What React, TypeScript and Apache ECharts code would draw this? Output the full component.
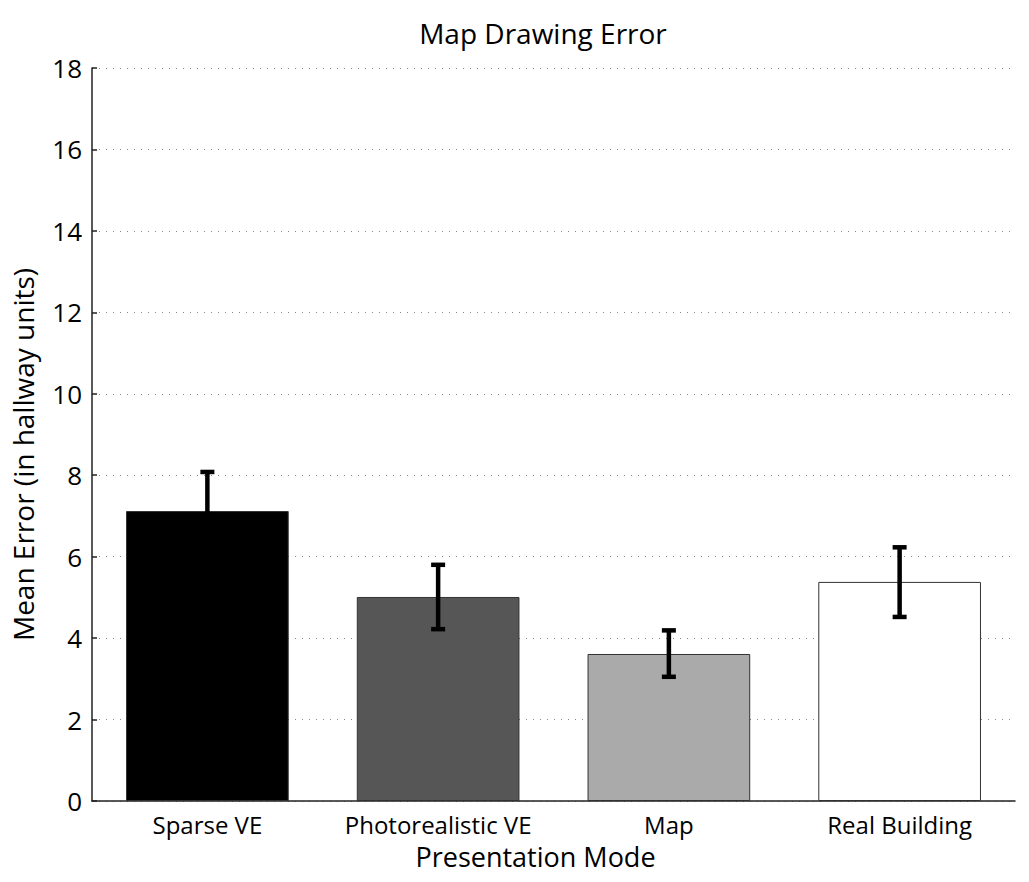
import React, { useEffect, useRef } from "react";
import * as echarts from "echarts";

const categories = ["Sparse VE", "Photorealistic VE", "Map", "Real Building"];
const meanError = [7.12, 5.01, 3.61, 5.38];
const errLow = [6.16, 4.22, 3.05, 4.52];
const errHigh = [8.08, 5.8, 4.19, 6.23];
const barColors = ["#000000", "#565656", "#aaaaaa", "#ffffff"];
const yTicks = [0, 2, 4, 6, 8, 10, 12, 14, 16, 18];

const FONT = "'Open Sans', 'Noto Sans', sans-serif";

export default function App() {
  const ref = useRef<HTMLDivElement>(null);
  useEffect(() => {
    if (!ref.current) return;
    const chart = echarts.init(ref.current, undefined, { renderer: "svg" });
    const errData = categories.map((c, i) => [i, errLow[i], errHigh[i]]);
    chart.setOption({
      animation: false,
      backgroundColor: "#ffffff",
      title: {
        text: "Map Drawing Error",
        left: 538,
        top: 14,
        textAlign: "center",
        textStyle: { fontFamily: FONT, fontSize: 28, fontWeight: "normal", color: "#000" },
      },
      grid: { left: 92, right: 14, top: 68, bottom: 81, containLabel: false, outerBoundsMode: "none" },
      xAxis: {
        type: "category",
        data: categories,
        name: "Presentation Mode",
        nameLocation: "middle",
        nameGap: 42,
        nameTextStyle: { fontFamily: FONT, fontSize: 27, color: "#000", padding: [0, 36, 0, 0] },
        axisLine: { show: true, lineStyle: { color: "#222", width: 1.5 } },
        axisTick: { show: false },
        axisLabel: { fontFamily: FONT, fontSize: 24, color: "#000", margin: 11, interval: 0, hideOverlap: false },
        splitLine: { show: false },
      },
      yAxis: {
        type: "value",
        min: 0,
        max: 18,
        interval: 2,
        name: "Mean Error (in hallway units)",
        nameLocation: "middle",
        nameGap: 55,
        nameTextStyle: { fontFamily: FONT, fontSize: 28, color: "#000", padding: [0, 40, 0, 0] },
        axisLine: { show: true, lineStyle: { color: "#222", width: 1.5 } },
        axisTick: { show: true, inside: true, length: 5, lineStyle: { color: "#222", width: 1.5 } },
        axisLabel: {
          fontFamily: FONT,
          fontSize: 26,
          color: "#000",
          margin: 10,
          formatter: (v: number) => (yTicks.includes(v) ? String(v) : ""),
        },
        splitLine: { show: true, lineStyle: { type: [1, 6], color: "#888", width: 1.2 } },
      },
      series: [
        {
          type: "bar",
          data: meanError.map((v, i) => ({
            value: v,
            itemStyle: { color: barColors[i], borderColor: "#333", borderWidth: 1 },
          })),
          barWidth: "70.5%",
          z: 2,
        },
        {
          type: "custom",
          data: errData,
          z: 3,
          renderItem: (params: any, api: any) => {
            const x = api.value(0);
            const lo = api.coord([x, api.value(1)]);
            const hi = api.coord([x, api.value(2)]);
            const cap = 7;
            const style = { stroke: "#000", lineWidth: 4.5 };
            return {
              type: "group",
              children: [
                { type: "line", shape: { x1: lo[0], y1: lo[1], x2: hi[0], y2: hi[1] }, style },
                { type: "line", shape: { x1: lo[0] - cap, y1: lo[1], x2: lo[0] + cap, y2: lo[1] }, style },
                { type: "line", shape: { x1: hi[0] - cap, y1: hi[1], x2: hi[0] + cap, y2: hi[1] }, style },
              ],
            };
          },
        },
      ],
    });
    return () => chart.dispose();
  }, []);
  return (
    <div
      ref={ref}
      style={{ position: "fixed", left: 0, top: 0, width: 1029, height: 882, background: "#fff" }}
    />
  );
}
